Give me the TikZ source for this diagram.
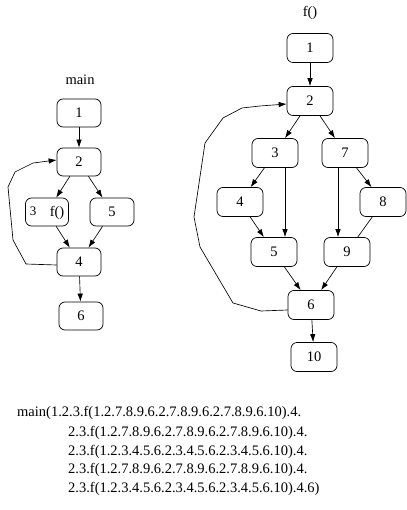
\documentclass[tikz,border=0pt]{standalone}
\usepackage{fontspec}
\setmainfont{Liberation Serif}
\usetikzlibrary{arrows.meta}
\begin{document}
\begin{tikzpicture}[x=1pt,y=-1pt,
  font=\fontsize{14.5}{17}\selectfont,
  blk/.style={draw, rounded corners=6pt, line width=0.7pt, minimum width=44pt, minimum height=28pt, inner sep=0pt},
  blkf/.style={blk, minimum width=46pt, minimum height=29pt},
  edge/.style={line width=0.65pt, -{Latex[length=8pt,width=5.5pt]}},
  plain/.style={line width=0.65pt},
  trace/.style={anchor=west, inner sep=0pt}]
\useasboundingbox (0,0) rectangle (406,510);

% ---- main ----
\node (mainlbl) at (80,80) {main};
\node[blk] (m1) at (79,113) {1};
\node[blk] (m2) at (79,162) {2};
\node[blk, minimum width=43pt] (m3) at (47,212) {};
\node[font=\fontsize{13}{15}\selectfont] (m3a) at (33,211) {3};
\node (m3b) at (57,213) {f()};
\node[blk] (m5) at (112,212) {5};
\node[blk] (m4) at (79,262) {4};
\node[blk] (m6) at (81,316) {6};

\draw[edge] (m1) -- (m2);
\draw[edge] (m2) -- (m3);
\draw[edge] (m2) -- (m5);
\draw[edge] (m3) -- (m4);
\draw[edge] (m5) -- (m4);
\draw[edge] (m4) -- (m6);
\draw[edge] (m4.west) ++(0,3) coordinate (m4l)
  (m4l) -- (26,264) -- (13,240) -- (8,187) -- (15,172) -- (33,163) -- (m2.west |- 0,160);

% ---- f() ----
\node (flbl) at (310,13) {f()};
\node[blkf] (f1) at (310,48) {1};
\node[blkf] (f2) at (310,101) {2};
\node[blkf] (f3) at (275,153) {3};
\node[blkf] (f7) at (345,153) {7};
\node[blkf] (f4) at (240,202) {4};
\node[blkf] (f8) at (383,202) {8};
\node[blkf] (f5) at (274,252) {5};
\node[blkf] (f9) at (347,252) {9};
\node[blkf] (f6) at (311,305) {6};
\node[blkf] (f10) at (314,357) {10};

\draw[edge] (f1) -- (f2);
\draw[edge] (f2) -- (f3);
\draw[edge] (f2) -- (f7);
\draw[edge] (f3) -- (f4);
\draw[edge] (f3.south -| 285,0) -- (f5.north -| 285,0);
\draw[edge] (f7) -- (f8);
\draw[edge] (f7.south -| 338,0) -- (f9.north -| 338,0);
\draw[edge] (f4) -- (f5);
\draw[plain] (f8) -- (f9);
\draw[edge] (f5) -- (f6);
\draw[edge] (f9) -- (f6);
\draw[edge] (f6) -- (f10);
\draw[edge] (f6.west |- 0,310) -- (261,311) -- (233,303) -- (200,247) -- (194,217)
  -- (205,143) -- (223,118) -- (242,108) -- (260,106) -- (f2.west |- 0,104);

% ---- trace ----
\node[trace] (t1) at (17,413) {main(1.2.3.f(1.2.7.8.9.6.2.7.8.9.6.2.7.8.9.6.10).4.};
\node[trace] (t2) at (68,433) {2.3.f(1.2.7.8.9.6.2.7.8.9.6.2.7.8.9.6.10).4.};
\node[trace] (t3) at (68,452) {2.3.f(1.2.3.4.5.6.2.3.4.5.6.2.3.4.5.6.10).4.};
\node[trace] (t4) at (68,470) {2.3.f(1.2.7.8.9.6.2.7.8.9.6.2.7.8.9.6.10).4.};
\node[trace] (t5) at (68,489) {2.3.f(1.2.3.4.5.6.2.3.4.5.6.2.3.4.5.6.10).4.6)};
\end{tikzpicture}
\end{document}
